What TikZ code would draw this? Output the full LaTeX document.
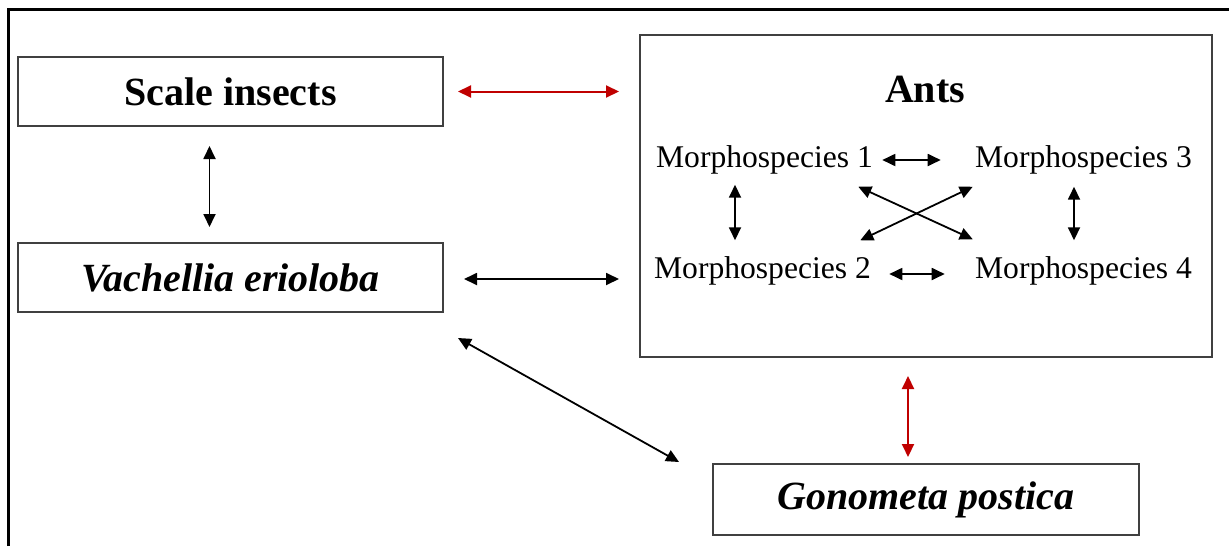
\documentclass[tikz,border=0pt]{standalone}
\usepackage{fontspec}
\setmainfont{Liberation Serif}
\usetikzlibrary{arrows.meta}
\definecolor{linkred}{RGB}{192,0,0}
\begin{document}
\begin{tikzpicture}[x=0.5pt,y=-0.5pt,
  box/.style={draw=black!75,line width=1pt,minimum width=212.5pt,minimum height=34.5pt,
    font=\fontsize{20}{24}\selectfont\bfseries},
  morph/.style={inner sep=0pt,font=\fontsize{15.8}{19}\selectfont},
  link/.style={{Triangle[length=6.5pt,width=6pt]}-{Triangle[length=6.5pt,width=6pt]},line width=0.9pt},
  redlink/.style={link,draw=linkred,fill=linkred,line width=1pt}]
  \useasboundingbox (0,0) rectangle (1229,546);
  \draw[line width=1.5pt] (8,546) |- (1229,9);
  % boxes
  \node[box] (scale) at (230.5,91.5) {Scale insects};
  \node[box] (vach) at (230.5,277.5) {\itshape Vachellia erioloba};
  \node[box,minimum width=213pt,minimum height=35.5pt] (gono) at (926,499.5) {\itshape Gonometa postica};
  \node[draw=black!75,line width=1pt,minimum width=286pt,minimum height=161pt] (ants) at (926,196) {};
  \node[inner sep=0pt,font=\fontsize{20}{24}\selectfont\bfseries] (antstitle) at (925,89) {Ants};
  \node[morph] (m1) at (764.5,160) {Morphospecies 1};
  \node[morph] (m2) at (762.5,271) {Morphospecies 2};
  \node[morph] (m3) at (1083.5,160) {Morphospecies 3};
  \node[morph] (m4) at (1083.5,271) {Morphospecies 4};
  % links between boxes
  \draw[redlink,shorten <=7pt,shorten >=10pt] (scale.east) -- (scale.east -| ants.west);
  \draw[link,shorten <=9.5pt,shorten >=7.5pt] ([shift={(-21,0)}]scale.south) -- ([shift={(-21,0)}]vach.north);
  \draw[link,shorten <=10pt,shorten >=10pt] ([shift={(0,1.5)}]vach.east) -- ([shift={(0,1.5)}]vach.east -| ants.west);
  \draw[link] ([shift={(14,25)}]vach.south east) -- ([shift={(-33,-1)}]gono.north west);
  \draw[redlink,shorten <=9pt,shorten >=3pt] ([shift={(-18,0)}]ants.south) -- ([shift={(-18,0)}]gono.north);
  % links between morphospecies
  \draw[link,shorten <=4.5pt,shorten >=17pt] (m1.east) -- (m1.east -| m3.west);
  \draw[link,shorten <=9pt,shorten >=15pt] ([shift={(0,3)}]m2.east) -- ([shift={(0,3)}]m2.east -| m4.west);
  \draw[link,shorten <=5pt,shorten >=8pt] ([shift={(-29.5,0)}]m1.south) -- ([shift={(-27.5,0)}]m2.north);
  \draw[link,shorten <=6pt,shorten >=8pt] ([shift={(-9.5,0)}]m3.south) -- ([shift={(-9.5,0)}]m4.north);
  \draw[link] ([shift={(-15,12)}]m1.south east) -- ([shift={(-2,-17)}]m4.north west);
  \draw[link] ([shift={(-2,12)}]m3.south west) -- ([shift={(-11,-16)}]m2.north east);
\end{tikzpicture}
\end{document}
